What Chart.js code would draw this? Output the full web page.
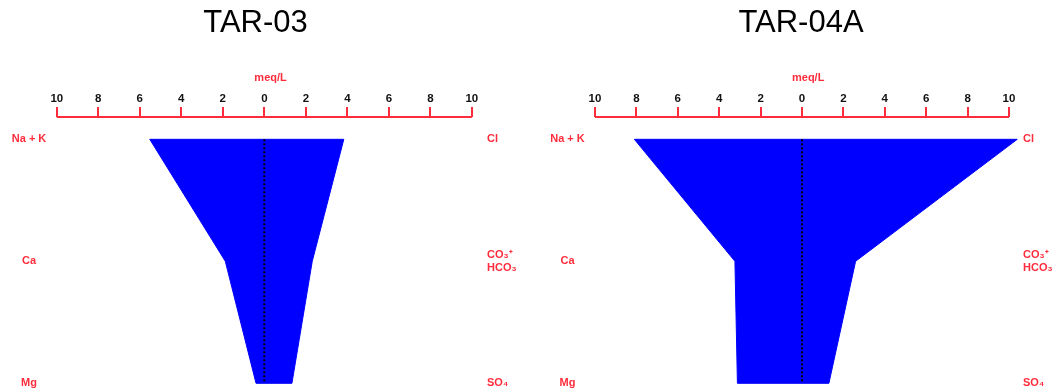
<!DOCTYPE html>
<html><head><meta charset="utf-8">
<script src="https://cdn.jsdelivr.net/npm/chart.js@4/dist/chart.umd.min.js"></script>
<style>
html,body{margin:0;padding:0;width:1052px;height:390px;overflow:hidden;background:#fff;position:relative}
.wrap{position:absolute;top:0;height:390px}
canvas{display:block}
</style></head><body>
<div class="wrap" style="left:-15px;width:541px"><canvas id="c1" width="541" height="390"></canvas></div>
<div class="wrap" style="left:526px;width:550px"><canvas id="c2" width="550" height="390"></canvas></div>
<script>
// ---- data ----
const samples = ['TAR-03', 'TAR-04A'];
const cationLabels = ['Na + K', 'Ca', 'Mg'];
const anionLabels = [['Cl'], ['CO₃⁺', 'HCO₃'], ['SO₄']];
const cationsTAR03 = [5.52, 1.88, 0.40];
const anionsTAR03 = [3.83, 2.31, 1.33];
const cationsTAR04A = [8.10, 3.24, 3.12];
const anionsTAR04A = [10.40, 2.59, 1.30];
const xTickValues = [-10, -8, -6, -4, -2, 0, 2, 4, 6, 8, 10];
const unitLabel = 'meq/L';

// ---- styling ----
const RED = '#ff2d3c';
const BLUE = '#0000ff';
const tickFont = {family: '"Liberation Sans", Arial', size: 11.5, weight: 'bold', lineHeight: '13.2px'};
const labelFont = {family: '"Liberation Sans", Arial', size: 11, weight: 'bold', lineHeight: '13.2px'};
const Y_MIN = -0.183, Y_MAX = 2.055, X_MIN = -10, X_MAX = 10.6;

function noPad(s) { s.paddingTop = 0; s.paddingBottom = 0; s.paddingLeft = 0; s.paddingRight = 0; }

function makeChart(id, title, cations, anions, geo) {
  const n = cations.length;
  const poly = [];
  for (let i = 0; i < n; i++) poly.push({x: -cations[i], y: i});
  for (let i = n - 1; i >= 0; i--) poly.push({x: anions[i], y: i});
  poly.push({x: -cations[0], y: 0});
  return new Chart(document.getElementById(id), {
    type: 'scatter',
    data: {
      datasets: [
        {label: 'zero', data: [{x: 0, y: 0}, {x: 0, y: n - 1}], showLine: true,
         borderColor: '#000', borderWidth: 2, borderDash: [2, 2], pointRadius: 0, fill: false, order: 0},
        {label: 'axis', data: [{x: xTickValues[0], y: Y_MIN}, {x: xTickValues[xTickValues.length - 1], y: Y_MIN}],
         showLine: true, borderColor: RED, borderWidth: 2, pointRadius: 0, fill: false, clip: false, order: 1},
        {label: title, data: poly, showLine: true, backgroundColor: BLUE, borderColor: BLUE,
         borderWidth: 1, pointRadius: 0, fill: 'shape', clip: false, order: 2}
      ]
    },
    options: {
      responsive: false, animation: false, events: [],
      layout: {padding: 0, autoPadding: false},
      plugins: {
        legend: {display: false}, tooltip: {enabled: false},
        title: {display: true, text: title, color: '#000',
          font: {family: '"Liberation Sans", Arial', size: 31, weight: 'normal', lineHeight: '36px'},
          padding: {top: 5, bottom: 30.6}}
      },
      scales: {
        x: {type: 'linear', position: 'top', min: X_MIN, max: X_MAX,
          afterBuildTicks: s => { s.ticks = xTickValues.map(v => ({value: v})); },
          afterFit: noPad,
          ticks: {callback: v => String(Math.abs(v)), color: '#111', font: tickFont, padding: 2,
                  maxRotation: 0, autoSkip: false},
          grid: {drawOnChartArea: false, color: RED, lineWidth: 2, tickLength: 10},
          border: {display: false},
          title: {display: true, text: unitLabel, color: RED, font: labelFont, padding: {top: 0, bottom: 5}}},
        y: {type: 'linear', position: 'left', reverse: true, min: Y_MIN, max: Y_MAX,
          afterBuildTicks: s => { s.ticks = cationLabels.map((_, i) => ({value: i})); },
          ticks: {callback: (v, i) => cationLabels[i], color: RED, font: labelFont, crossAlign: 'center',
                  padding: geo.leftPad, autoSkip: false},
          grid: {display: false, drawTicks: false}, border: {display: false},
          afterFit: s => { s.width = geo.leftW; noPad(s); }},
        y2: {type: 'linear', axis: 'y', position: 'right', reverse: true, min: Y_MIN, max: Y_MAX,
          afterBuildTicks: s => { s.ticks = anionLabels.map((_, i) => ({value: i})); },
          ticks: {callback: (v, i) => anionLabels[i], color: RED, font: labelFont, crossAlign: 'near',
                  padding: geo.rightPad, autoSkip: false},
          grid: {display: false, drawTicks: false}, border: {display: false},
          afterFit: s => { s.width = geo.rightW; noPad(s); }}
      }
    }
  });
}

makeChart('c1', samples[0], cationsTAR03, anionsTAR03, {leftW: 71.8, rightW: 41.7, leftPad: 10.5, rightPad: 2.7});
makeChart('c2', samples[1], cationsTAR04A, anionsTAR04A, {leftW: 69, rightW: 54.6, leftPad: 10.25, rightPad: 1.6});
</script>
</body></html>
